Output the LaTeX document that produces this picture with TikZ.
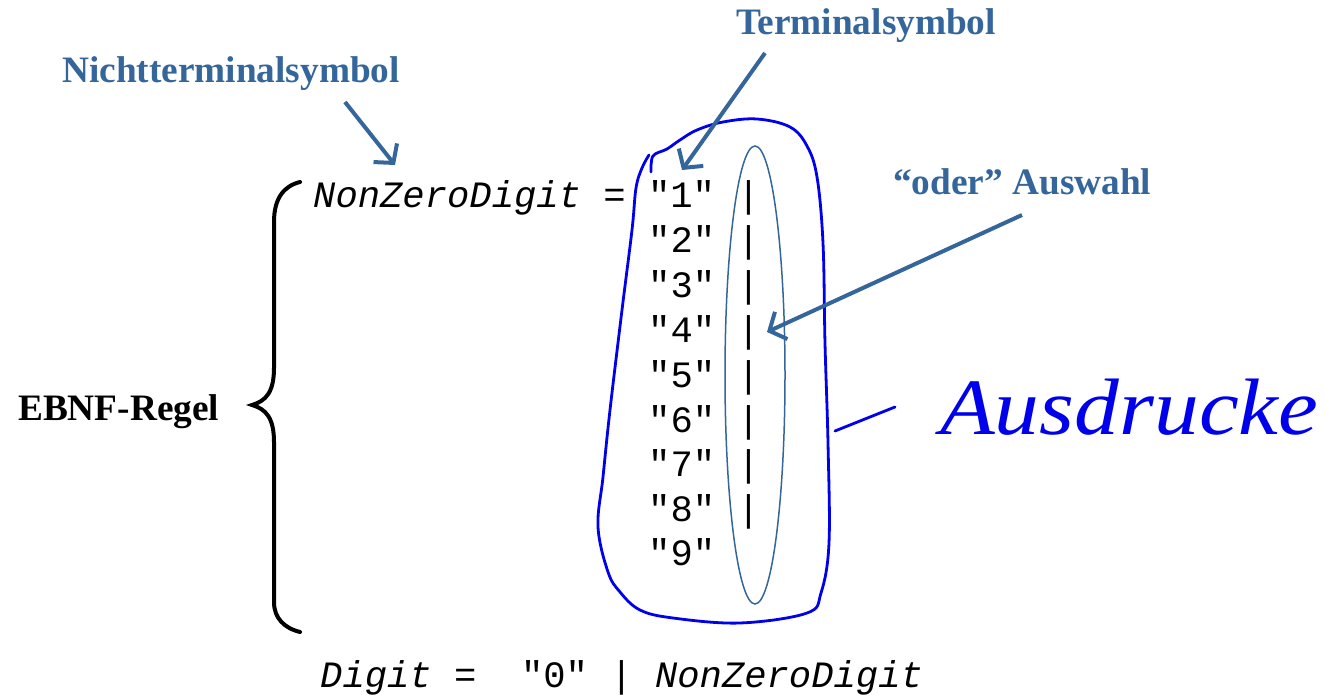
\documentclass[tikz,border=0pt]{standalone}
\usepackage{fontspec}
\setmainfont{Liberation Serif}
\setmonofont{Liberation Mono}
\usetikzlibrary{arrows.meta}
\definecolor{labelblue}{RGB}{52,102,156}
\definecolor{handblue}{RGB}{0,0,235}
\begin{document}
\begin{tikzpicture}[x=1pt,y=-1pt,
  lbl/.style={font=\fontsize{37.3}{40}\selectfont\bfseries, text=labelblue, inner sep=0pt, anchor=base west},
  code/.style={font=\fontsize{37.2}{40}\selectfont\ttfamily, inner sep=0pt, anchor=base west},
  arr/.style={draw=labelblue, line width=4pt, -{Straight Barb[length=13pt,width=30pt]}},
  hand/.style={draw=handblue, line width=2.8pt, line cap=round, line join=round},
  brace/.style={draw=black, line width=4pt, line cap=round}]
\useasboundingbox (0,0) rectangle (1326,695);
% labels
\node[lbl] (nt) at (62,83) {Nichtterminalsymbol};
\node[lbl] (term) at (736,35) {Terminalsymbol};
\node[lbl] (oder) at (893,195) {“oder” Auswahl};
\node[lbl, text=black] (ebnf) at (18,420) {EBNF-Regel};
% code
\node[code] (l1) at (313,208) {\textit{NonZeroDigit} = "1" |};
\node[code] (l2) at (648,253) {"2" |};
\node[code] (l3) at (648,298) {"3" |};
\node[code] (l4) at (648,342) {"4" |};
\node[code] (l5) at (648,387) {"5" |};
\node[code] (l6) at (648,432) {"6" |};
\node[code] (l7) at (648,476) {"7" |};
\node[code] (l8) at (648,521) {"8" |};
\node[code] (l9) at (648,565) {"9"};
\node[code] (dig) at (320,687) {\textit{Digit} =~~"0" | \textit{NonZeroDigit}};
% ellipse
\draw[labelblue, line width=1.5pt] (755,375) ellipse [x radius=30pt, y radius=229pt];
% brace
\draw[brace] (300,182) .. controls (284,186) and (274,198) .. (274,222) -- (274,368)
  .. controls (274,392) and (266,401) .. (252,405)
  .. controls (266,409) and (274,418) .. (274,442) -- (274,602)
  .. controls (274,618) and (284,628) .. (300,632);
% hand-drawn blob
\draw[hand] plot[smooth, tension=0.6] coordinates {(651,172) (653,156) (667,149) (680,140) (697,130) (723,122) (757,119) (790,127) (807,146) (817,177) (823,243) (825,343) (828,443) (829,543) (821,593) (807,613) (740,623) (673,618) (640,610) (620,592) (608,572) (598,527) (603,477) (610,410) (622,310) (632,230) (636,188) (642,168) (649,155)};
\coordinate (blobE) at (835,431);
\coordinate (dashE) at (895,407);
\draw[hand] (blobE) -- (dashE);
\node[font=\fontsize{80}{82}\selectfont\itshape, text=handblue, inner sep=0pt, anchor=base west, xscale=1.12] (aus) at (940,434) {Ausdrucke};
% arrows
\coordinate (ntA) at (345,102);
\coordinate (ntB) at (395,165);
\coordinate (tA) at (765,53);
\coordinate (tB) at (682,170);
\coordinate (oA) at (1022,215);
\coordinate (oB) at (767,332);
\draw[arr] (ntA) -- (ntB);
\draw[arr] (tA) -- (tB);
\draw[arr] (oA) -- (oB);
\end{tikzpicture}
\end{document}
